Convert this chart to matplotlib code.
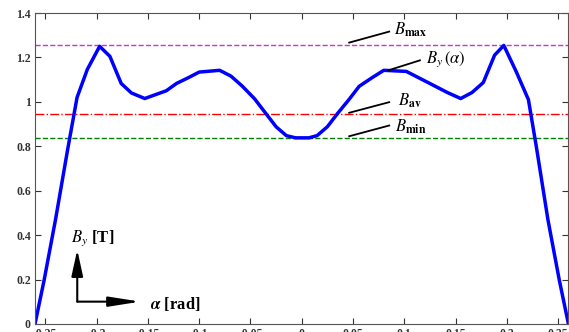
import numpy as np
import matplotlib.pyplot as plt

plt.rcParams['mathtext.fontset'] = 'stix'
plt.rcParams['font.family'] = 'Liberation Serif'

# field profile
alpha = [-0.26, -0.251, -0.24, -0.228, -0.219, -0.209, -0.197, -0.187, -0.176,
         -0.166, -0.153, -0.144, -0.132, -0.122, -0.11, -0.1, -0.08, -0.069,
         -0.058, -0.046, -0.035, -0.025, -0.015, -0.006, 0.007, 0.015, 0.025,
         0.035, 0.046, 0.056, 0.069, 0.08, 0.102, 0.121, 0.142, 0.155, 0.166,
         0.177, 0.188, 0.197, 0.209, 0.221, 0.229, 0.24, 0.251, 0.26]
by = [0.0, 0.2, 0.47, 0.79, 1.02, 1.146, 1.25, 1.205, 1.083,
      1.04, 1.015, 1.03, 1.05, 1.083, 1.11, 1.134, 1.142, 1.116,
      1.071, 1.014, 0.948, 0.888, 0.848, 0.838, 0.838, 0.848, 0.888,
      0.948, 1.01, 1.07, 1.11, 1.142, 1.137, 1.092, 1.042, 1.015, 1.042,
      1.087, 1.21, 1.254, 1.137, 1.01, 0.79, 0.47, 0.2, 0.0]
b_max = 1.258
b_av = 0.946
b_min = 0.837

xticks = [-0.25, -0.2, -0.15, -0.1, -0.05, 0, 0.05, 0.1, 0.15, 0.2, 0.25]
yticks = [0, 0.2, 0.4, 0.6, 0.8, 1, 1.2, 1.4]

fig = plt.figure(figsize=(5.69, 3.32), dpi=100)
ax = fig.add_axes([35/569, 8/332, 534/569 - 0.001, 311/332])

ax.axhline(b_max, color='#CC33CC', ls='--', lw=1)
ax.axhline(b_av, color='red', ls='-.', lw=1)
ax.axhline(b_min, color='green', ls='--', lw=1)
ax.plot(alpha, by, color='blue', lw=2.5)

ax.set_xlim(-0.26, 0.26)
ax.set_ylim(0, 1.4)
ax.set_xticks(xticks)
ax.set_xticklabels([('%g' % t) for t in xticks])
ax.set_yticks(yticks)
ax.set_yticklabels([('%g' % t) for t in yticks])
ax.tick_params(direction='in', top=True, right=True, length=4, width=0.8,
               labelsize=8.5, colors='#333333', pad=3)
for lab in ax.get_xticklabels() + ax.get_yticklabels():
    lab.set_fontweight('bold')
for s in ax.spines.values():
    s.set_color('#555555')
    s.set_linewidth(0.8)

# labels with leader lines (data coords)
def px(x, y):
    return ((x - 302.5) / 1026.0, (324 - y) / 221.6)

notes = [
    ((350, 43.3), (390, 32.3), (395, 31), r'$B_{\mathbf{max}}$'),
    ((389, 71), (420.7, 61), (427, 60), r'$B_y\,(\alpha)$'),
    ((350, 113.3), (390, 102.7), (399, 101), r'$B_{\mathbf{av}}$'),
    ((350, 136.7), (390, 126), (396, 127), r'$B_{\mathbf{min}}$'),
]
for p0, p1, pt, txt in notes:
    a, b = px(*p0)
    c, d = px(*p1)
    ax.plot([a, c], [b, d], color='black', lw=1.3)
    tx, ty = px(*pt)
    ax.text(tx, ty, txt, fontsize=12, ha='left', va='center')

# axis arrows
o = px(78, 301.7)
up = px(78, 250)
rt = px(141, 301.7)
ax.annotate('', xy=up, xytext=o,
            arrowprops=dict(arrowstyle='-|>,head_length=1.6,head_width=0.35',
                            color='black', lw=1.5, shrinkA=0, shrinkB=0))
ax.annotate('', xy=rt, xytext=o,
            arrowprops=dict(arrowstyle='-|>,head_length=1.9,head_width=0.3',
                            color='black', lw=1.5, shrinkA=0, shrinkB=0))
tx, ty = px(72, 238)
ax.text(tx, ty, r'$\boldsymbol{B_y}$ [T]', fontsize=12, fontweight='bold',
        ha='left', va='center')
tx, ty = px(151, 304)
ax.text(tx, ty, r'$\boldsymbol{\alpha}$ [rad]', fontsize=12, fontweight='bold',
        ha='left', va='center')

fig.savefig('out.png', dpi=100)
